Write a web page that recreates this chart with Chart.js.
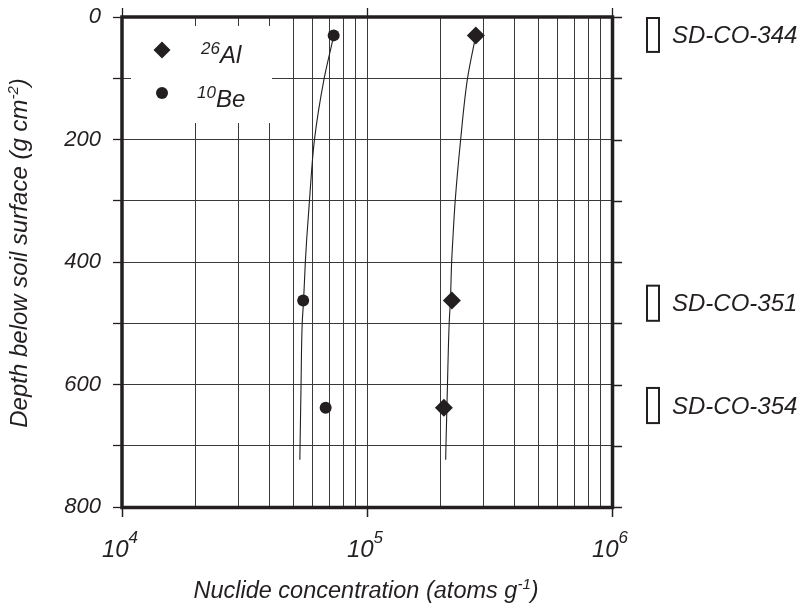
<!DOCTYPE html>
<html><head><meta charset="utf-8">
<script src="https://cdn.jsdelivr.net/npm/chart.js@4/dist/chart.umd.min.js"></script>
<style>html,body{margin:0;padding:0;background:#fff}canvas{display:block}</style>
</head><body>
<canvas id="c" width="798" height="607"></canvas>
<script>
// ---- Data ----
const alConc  = [2.78e5, 2.22e5, 2.06e5];
const alDepth = [30, 463, 638];
const beConc  = [7.31e4, 5.49e4, 6.78e4];
const beDepth = [30, 463, 638];

// profile curves
const alCurveDepth = [30, 101, 201, 301, 364, 401, 463, 500, 601, 701, 723];
const alCurveConc  = [2.78e5, 2.57e5, 2.41e5, 2.29e5, 2.24e5, 2.215e5, 2.19e5, 2.165e5, 2.13e5, 2.10e5, 2.095e5];
const beCurveDepth = [30, 38, 101, 201, 301, 364, 401, 463, 500, 601, 701, 723];
const beCurveConc  = [7.31e4, 7.24e4, 6.68e4, 6.10e4, 5.82e4, 5.67e4, 5.60e4, 5.51e4, 5.44e4, 5.38e4, 5.33e4, 5.32e4];

// sample depth intervals
const sampleNames  = ['SD-CO-344', 'SD-CO-351', 'SD-CO-354'];
const sampleTop    = [0, 437, 604];
const sampleBottom = [57, 496, 663];

// legend
const seriesNames    = ['Al', 'Be'];
const seriesIsotopes = ['26', '10'];

// axes
const depthTicks  = [0, 100, 200, 300, 400, 500, 600, 700, 800];
const depthLabels = [0, 200, 400, 600, 800];
const concGrid = [1e4, 2e4, 3e4, 4e4, 5e4, 6e4, 7e4, 8e4, 9e4,
                  1e5, 2e5, 3e5, 4e5, 5e5, 6e5, 7e5, 8e5, 9e5, 1e6];
const decades   = [1e4, 1e5, 1e6];
const decadeExp = ['4', '5', '6'];

// ---- styling ----
const FAM  = '"Liberation Sans", Arial, sans-serif';
const INK  = '#231f20';
const GRID = '#3a3a3a';

function drawRich(ctx, parts, x, y, size, supSize, raise, align) {
  const f = s => 'italic ' + s + 'px ' + FAM;
  let w = 0;
  parts.forEach(p => { ctx.font = f(p.sup ? supSize : size); p.w = ctx.measureText(p.t).width; w += p.w; });
  let cx = align === 'center' ? x - w / 2 : (align === 'right' ? x - w : x);
  ctx.textAlign = 'left';
  ctx.textBaseline = 'alphabetic';
  parts.forEach(p => {
    ctx.font = f(p.sup ? supSize : size);
    ctx.fillText(p.t, cx, p.sup ? y - raise : y);
    cx += p.w;
  });
}

const decor = {
  id: 'decor',
  beforeDatasetsDraw(chart) {
    const ctx = chart.ctx;
    ctx.save();
    // legend box (white, hides grid)
    ctx.fillStyle = '#fff';
    ctx.fillRect(131, 26, 141, 97);
    ctx.fillStyle = INK;
    const dx = 162, dy = 50, r = 8.5;
    ctx.beginPath();
    ctx.moveTo(dx, dy - r); ctx.lineTo(dx + r, dy); ctx.lineTo(dx, dy + r); ctx.lineTo(dx - r, dy);
    ctx.closePath(); ctx.fill();
    ctx.beginPath(); ctx.arc(162, 93, 6, 0, Math.PI * 2); ctx.fill();
    drawRich(ctx, [{t: seriesIsotopes[0], sup: true}, {t: seriesNames[0]}], 201, 63, 24, 17, 9, 'left');
    drawRich(ctx, [{t: seriesIsotopes[1], sup: true}, {t: seriesNames[1]}], 197, 107, 24, 17, 9, 'left');
    ctx.restore();
  },
  afterDatasetsDraw(chart) {
    const ctx = chart.ctx, ca = chart.chartArea;
    const xs = chart.scales.x, ys = chart.scales.y;
    ctx.save();
    ctx.strokeStyle = INK;
    ctx.fillStyle = INK;
    ctx.lineWidth = 1.3;
    ctx.beginPath();
    decades.forEach(v => { const px = Math.round(xs.getPixelForValue(v)) + 0.5; ctx.moveTo(px, ca.top); ctx.lineTo(px, ca.top - 9); });
    depthTicks.forEach(v => { const py = Math.round(ys.getPixelForValue(v)) + 0.5; ctx.moveTo(ca.right, py); ctx.lineTo(ca.right + 10, py); });
    ctx.stroke();
    ctx.lineWidth = 3.5;
    ctx.strokeRect(ca.left, ca.top, ca.right - ca.left + 0.5, ca.bottom - ca.top + 0.5);
    decades.forEach((v, i) => {
      const px = xs.getPixelForValue(v);
      drawRich(ctx, [{t: '10'}, {t: decadeExp[i], sup: true}], px - 2, 557, 24, 17, 14, 'center');
    });
    drawRich(ctx, [{t: 'Nuclide concentration (atoms g'}, {t: '-1', sup: true}, {t: ')'}], 366, 598, 23.5, 15, 9, 'center');
    ctx.save();
    ctx.translate(27, 253);
    ctx.rotate(-Math.PI / 2);
    drawRich(ctx, [{t: 'Depth below soil surface (g cm'}, {t: '-2', sup: true}, {t: ')'}], 0, 0, 24, 15, 9, 'center');
    ctx.restore();
    ctx.lineWidth = 2;
    sampleNames.forEach((n, i) => {
      const y0 = ys.getPixelForValue(sampleTop[i]), y1 = ys.getPixelForValue(sampleBottom[i]);
      ctx.strokeRect(647, y0 + 1, 12, y1 - y0 - 1);
      ctx.font = 'italic 24px ' + FAM;
      ctx.textAlign = 'left'; ctx.textBaseline = 'alphabetic';
      ctx.fillText(n, 672, (y0 + y1) / 2 + 8.5);
    });
    ctx.restore();
  }
};

const pts = (xa, ya) => xa.map((v, i) => ({x: v, y: ya[i]}));
const zeroPad = s => { s.paddingTop = 0; s.paddingBottom = 0; s.paddingLeft = 0; s.paddingRight = 0; };

new Chart(document.getElementById('c'), {
  type: 'scatter',
  data: {
    datasets: [
      {label: '26Al', data: pts(alConc, alDepth), pointStyle: 'rectRot', pointRadius: 9,
       backgroundColor: INK, borderColor: INK, borderWidth: 0, order: 0},
      {label: '10Be', data: pts(beConc, beDepth), pointStyle: 'circle', pointRadius: 6,
       backgroundColor: INK, borderColor: INK, borderWidth: 0, order: 0},
      {label: '26Al profile', data: pts(alCurveConc, alCurveDepth), showLine: true, pointRadius: 0,
       indexAxis: 'y', cubicInterpolationMode: 'monotone',
       borderColor: INK, borderWidth: 1.1, order: 1},
      {label: '10Be profile', data: pts(beCurveConc, beCurveDepth), showLine: true, pointRadius: 0,
       indexAxis: 'y', cubicInterpolationMode: 'monotone',
       borderColor: INK, borderWidth: 1.1, order: 1}
    ]
  },
  options: {
    responsive: false, animation: false, devicePixelRatio: 1,
    layout: {padding: {left: 0, top: 17, right: 186, bottom: 0}},
    plugins: {legend: {display: false}, tooltip: {enabled: false}},
    scales: {
      x: {
        type: 'logarithmic', min: 1e4, max: 1e6, position: 'bottom',
        afterBuildTicks: s => { s.ticks = concGrid.map(v => ({value: v, major: decades.includes(v)})); },
        afterFit: s => { s.height = 100; zeroPad(s); },
        ticks: {display: false, autoSkip: false},
        grid: {color: GRID, lineWidth: 1, drawTicks: true, tickLength: 10, tickWidth: 1.5,
               tickColor: c => (c.tick && decades.includes(c.tick.value)) ? INK : 'rgba(0,0,0,0)'},
        border: {display: false}
      },
      y: {
        type: 'linear', min: 0, max: 800, reverse: true,
        afterBuildTicks: s => { s.ticks = depthTicks.map(v => ({value: v})); },
        afterFit: s => { s.width = 122; zeroPad(s); },
        ticks: {autoSkip: false, callback: v => depthLabels.includes(v) ? String(v) : '',
                font: {family: FAM, size: 22, style: 'italic'}, color: INK, padding: 12},
        grid: {color: GRID, lineWidth: 1, tickLength: 9, tickColor: INK, tickWidth: 1.3},
        border: {display: false}
      }
    }
  },
  plugins: [decor]
});
</script>
</body></html>
